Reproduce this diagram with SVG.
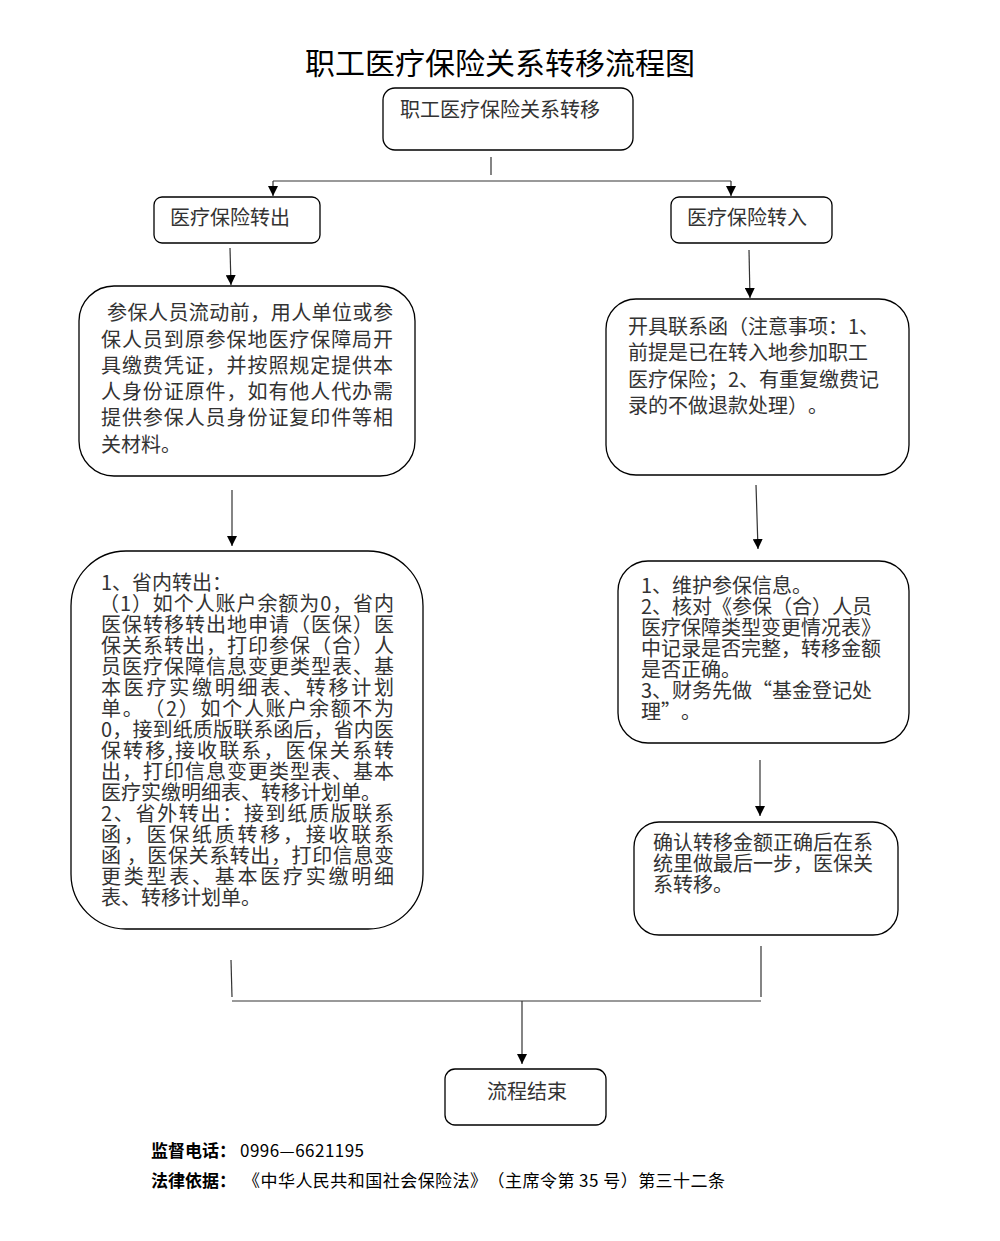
<svg xmlns="http://www.w3.org/2000/svg" width="1000" height="1241" viewBox="0 0 1000 1241">
<defs>
<marker id="arr" viewBox="0 0 10 10" refX="10" refY="5" markerWidth="10" markerHeight="10" markerUnits="userSpaceOnUse" orient="auto">
<path d="M0,0 L10,5 L0,10 z" fill="#000"/>
</marker>
</defs>
<style>
text{text-spacing-trim:space-all}
.box{fill:#fff;stroke:#000;stroke-width:1.3}
.t{font-family:"Noto Sans CJK SC","Liberation Serif",serif;font-size:20px;fill:#333}
.ttl{font-family:"Noto Sans CJK SC","Liberation Sans",sans-serif;font-size:30px;fill:#000}
.ft{font-family:"Noto Sans CJK SC","Liberation Sans",sans-serif;font-size:17px;fill:#000}
.b{font-weight:bold}
.ln{stroke:#333;stroke-width:1.2;fill:none}
.hl{stroke:#777;stroke-width:1.6;fill:none}
</style>
<rect width="1000" height="1241" fill="#fff"/>
<text class="ttl" x="500" y="74" text-anchor="middle">职工医疗保险关系转移流程图</text>

<g id="connectors">
<line class="ln" x1="491" y1="157" x2="491" y2="175"/>
<line class="hl" x1="273" y1="181" x2="731" y2="181"/>
<line class="ln" x1="273" y1="181" x2="273" y2="196" marker-end="url(#arr)"/>
<line class="ln" x1="731" y1="181" x2="731" y2="196" marker-end="url(#arr)"/>
<line class="ln" x1="230" y1="248" x2="231" y2="285" marker-end="url(#arr)"/>
<line class="ln" x1="749" y1="250" x2="750" y2="298" marker-end="url(#arr)"/>
<line class="ln" x1="232" y1="490" x2="232" y2="546" marker-end="url(#arr)"/>
<line class="ln" x1="756" y1="485" x2="758" y2="549" marker-end="url(#arr)"/>
<line class="ln" x1="760" y1="760" x2="760" y2="816" marker-end="url(#arr)"/>
<line class="ln" x1="231" y1="960" x2="232" y2="997"/>
<line class="ln" x1="761" y1="946" x2="761" y2="997"/>
<line class="hl" x1="232" y1="1001" x2="761" y2="1001"/>
<line class="ln" x1="522" y1="1001" x2="522" y2="1064" marker-end="url(#arr)"/>
</g>

<g id="n-top">
<rect class="box" x="383" y="88" width="250" height="62" rx="12"/>
<text class="t" x="400" y="117">职工医疗保险关系转移</text>
</g>

<g id="n-out">
<rect class="box" x="154" y="197" width="166" height="46" rx="8"/>
<text class="t" x="170" y="225">医疗保险转出</text>
</g>

<g id="n-in">
<rect class="box" x="671" y="197" width="161" height="46" rx="8"/>
<text class="t" x="687" y="225">医疗保险转入</text>
</g>

<g id="n-out1">
<rect class="box" x="79" y="286" width="336" height="190" rx="35"/>
<text class="t" x="107" y="320" textLength="286" lengthAdjust="spacing">参保人员流动前，用人单位或参</text>
<text class="t" x="101" y="347" textLength="292" lengthAdjust="spacing">保人员到原参保地医疗保障局开</text>
<text class="t" x="101" y="373" textLength="292" lengthAdjust="spacing">具缴费凭证，并按照规定提供本</text>
<text class="t" x="101" y="399" textLength="292" lengthAdjust="spacing">人身份证原件，如有他人代办需</text>
<text class="t" x="101" y="425" textLength="292" lengthAdjust="spacing">提供参保人员身份证复印件等相</text>
<text class="t" x="101" y="452">关材料。</text>
</g>

<g id="n-in1">
<rect class="box" x="606" y="299" width="303" height="176" rx="30"/>
<text class="t" x="628" y="334">开具联系函（注意事项：1、</text>
<text class="t" x="628" y="360">前提是已在转入地参加职工</text>
<text class="t" x="628" y="387">医疗保险；2、有重复缴费记</text>
<text class="t" x="628" y="413">录的不做退款处理）。</text>
</g>

<g id="n-out2">
<rect class="box" x="71" y="551" width="352" height="378" rx="55"/>
<text class="t" x="101" y="590">1、省内转出：</text>
<text class="t" x="99" y="611" textLength="295" lengthAdjust="spacing">（1）如个人账户余额为0，省内</text>
<text class="t" x="101" y="632" textLength="293" lengthAdjust="spacing">医保转移转出地申请（医保）医</text>
<text class="t" x="101" y="653" textLength="293" lengthAdjust="spacing">保关系转出，打印参保（合）人</text>
<text class="t" x="101" y="674" textLength="293" lengthAdjust="spacing">员医疗保障信息变更类型表、基</text>
<text class="t" x="101" y="695" textLength="293" lengthAdjust="spacing">本医疗实缴明细表、转移计划</text>
<text class="t" x="101" y="716" textLength="293" lengthAdjust="spacing">单。（2）如个人账户余额不为</text>
<text class="t" x="101" y="737" textLength="293" lengthAdjust="spacing">0，接到纸质版联系函后，省内医</text>
<text class="t" x="101" y="758" textLength="293" lengthAdjust="spacing">保转移,接收联系，医保关系转</text>
<text class="t" x="101" y="779" textLength="293" lengthAdjust="spacing">出，打印信息变更类型表、基本</text>
<text class="t" x="101" y="800">医疗实缴明细表、转移计划单。</text>
<text class="t" x="101" y="821" textLength="293" lengthAdjust="spacing">2、省外转出：接到纸质版联系</text>
<text class="t" x="101" y="842" textLength="293" lengthAdjust="spacing">函，医保纸质转移，接收联系</text>
<text class="t" x="101" y="863" textLength="293" lengthAdjust="spacing">函 ，医保关系转出，打印信息变</text>
<text class="t" x="101" y="884" textLength="293" lengthAdjust="spacing">更类型表、基本医疗实缴明细</text>
<text class="t" x="101" y="905">表、转移计划单。</text>
</g>

<g id="n-in2">
<rect class="box" x="618" y="561" width="291" height="182" rx="30"/>
<text class="t" x="641" y="593">1、维护参保信息。</text>
<text class="t" x="641" y="614">2、核对《参保（合）人员</text>
<text class="t" x="641" y="635">医疗保障类型变更情况表》</text>
<text class="t" x="641" y="656">中记录是否完整，转移金额</text>
<text class="t" x="641" y="677">是否正确。</text>
<text class="t" x="641" y="698">3、财务先做“基金登记处</text>
<text class="t" x="641" y="719">理”。</text>
</g>

<g id="n-in3">
<rect class="box" x="634" y="822" width="264" height="113" rx="25"/>
<text class="t" x="653" y="850">确认转移金额正确后在系</text>
<text class="t" x="653" y="871">统里做最后一步，医保关</text>
<text class="t" x="653" y="892">系转移。</text>
</g>

<g id="n-end">
<rect class="box" x="445" y="1069" width="161" height="56" rx="10"/>
<text class="t" x="487" y="1099">流程结束</text>
</g>

<g id="footer">
<text class="ft b" x="151" y="1157">监督电话：</text>
<text class="ft" x="240" y="1157" textLength="124" lengthAdjust="spacing">0996—6621195</text>
<text class="ft b" x="151" y="1187">法律依据：</text>
<text class="ft" x="243" y="1187" textLength="482" lengthAdjust="spacing">《中华人民共和国社会保险法》（主席令第 35 号）第三十二条</text>
</g>
</svg>
